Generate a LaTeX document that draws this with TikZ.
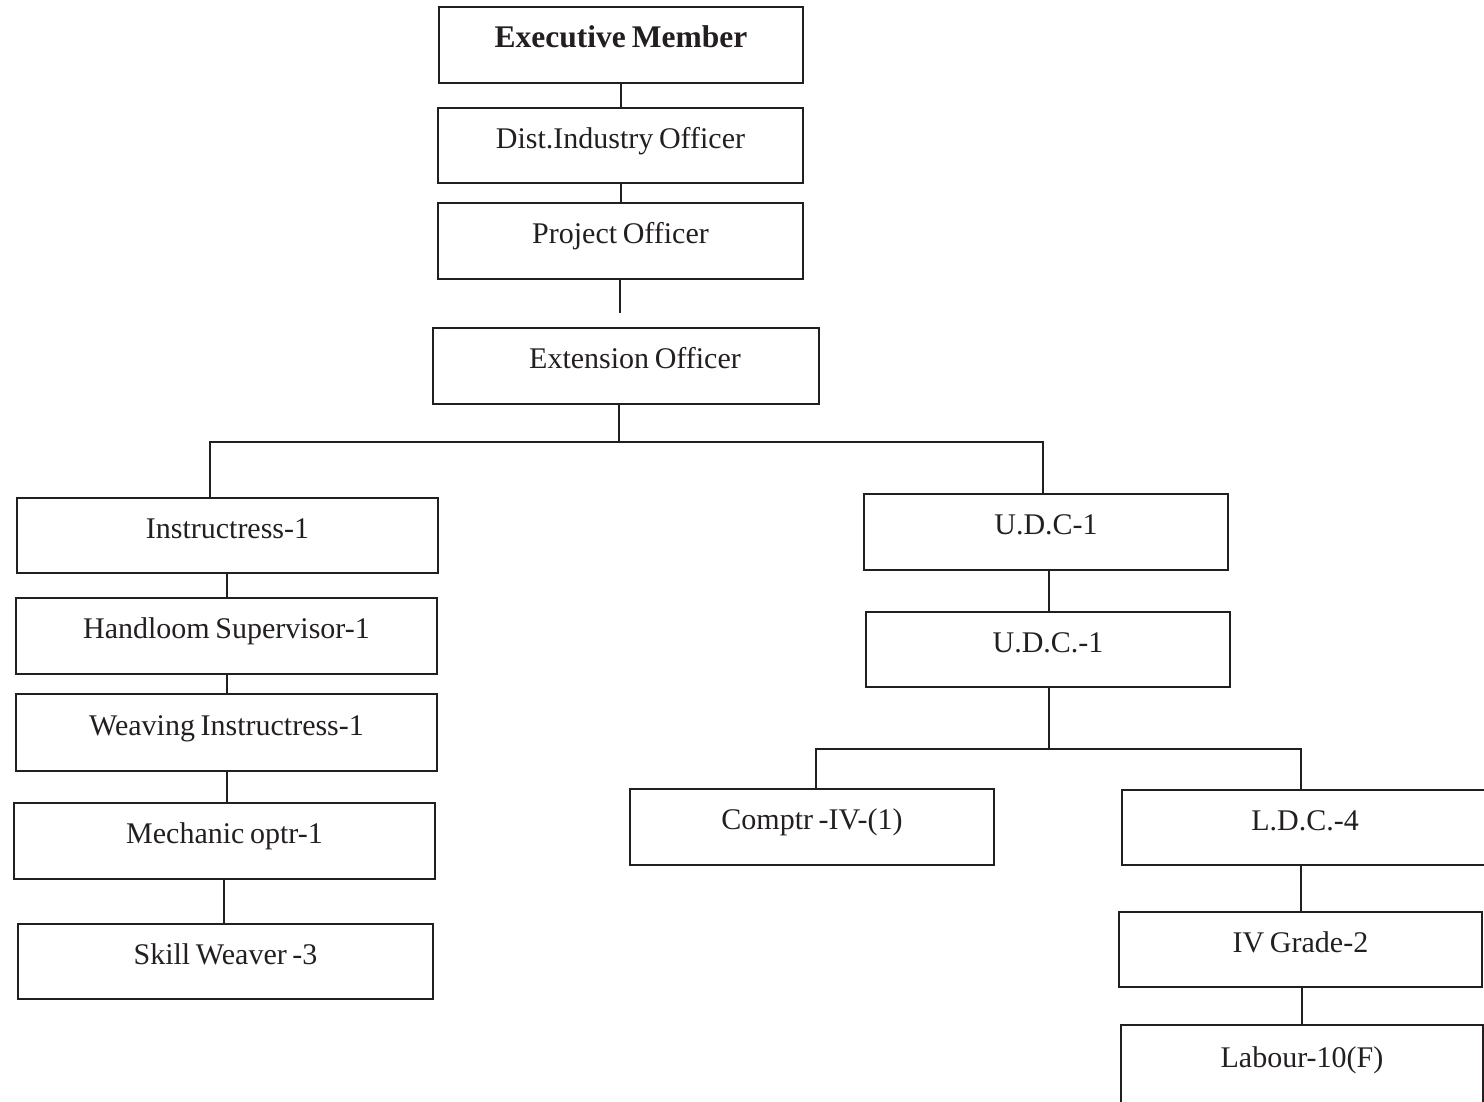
\documentclass[tikz,border=0pt]{standalone}
\usepackage{fontspec}
\setmainfont[WordSpace=0.75]{Liberation Serif}
\definecolor{ink}{RGB}{35,31,32}
\begin{document}
\begin{tikzpicture}[x=1pt,y=-1pt,
  every node/.style={font=\fontsize{30}{35}\selectfont, text=ink},
  post/.style={draw=ink, line width=2pt, inner sep=0pt,
    minimum height=76pt, text height=20pt, text depth=15pt},
  link/.style={draw=ink, line width=2pt, line join=miter}]
\useasboundingbox (0,0) rectangle (1484,1101);
\clip (0,0) rectangle (1484,1101);

% upper chain
\node[post, minimum width=364pt] (exec) at (621,45) {\fontsize{31.5}{36}\selectfont\bfseries Executive Member};
\node[post, minimum width=365pt, minimum height=75pt] (dist) at (620.5,145.5) {Dist.Industry Officer};
\node[post, minimum width=365pt] (proj) at (620.5,241) {Project Officer};
\node[post, minimum width=386pt] (ext) at (626,366) {\hspace*{18pt}Extension Officer};

% left branch
\node[post, minimum width=421pt, minimum height=75pt] (inst) at (227.5,535.5) {Instructress-1};
\node[post, minimum width=421pt] (hand) at (226.5,636) {Handloom Supervisor-1};
\node[post, minimum width=421pt, minimum height=77pt] (weave) at (226.5,732.5) {Weaving Instructress-1};
\node[post, minimum width=421pt] (mech) at (224.5,841) {Mechanic optr-1};
\node[post, minimum width=415pt, minimum height=75pt] (skill) at (225.5,961.5) {Skill Weaver -3};

% right branch
\node[post, minimum width=364pt] (udca) at (1046,532) {U.D.C-1};
\node[post, minimum width=364pt, minimum height=75pt] (udcb) at (1048,649.5) {U.D.C.-1};
\node[post, minimum width=364pt] (comp) at (812,827) {Comptr -IV-(1)};
\node[post, minimum width=366pt, minimum height=75pt] (ldc) at (1305,827.5) {L.D.C.-4};
\node[post, minimum width=363pt, minimum height=75pt] (grade) at (1300.5,949.5) {IV Grade-2};
\node[post, minimum width=362pt, minimum height=80pt] (labour) at (1302,1065) {Labour-10(F)};

% junction points
\coordinate (projend) at (620,313);
\coordinate (extdrop) at (619,442);
\coordinate (busL) at (210,442);
\coordinate (busR) at (1043,442);
\coordinate (udcdrop) at (1049,749);
\coordinate (subL) at (816,749);
\coordinate (subR) at (1301,749);

% connectors
\draw[link] (exec.south -| dist.north) -- (dist.north);
\draw[link] (dist.south) -- (proj.north);
\draw[link] (proj.south -| projend) -- (projend);
\draw[link] (extdrop |- ext.south) -- (extdrop);
\draw[link] (busL |- inst.north) -- (busL) -- (busR) -- (busR |- udca.north);
\draw[link] (227,573) coordinate (a1) -- (a1 |- hand.north);
\draw[link] (227,674) coordinate (a2) -- (a2 |- weave.north);
\draw[link] (227,771) coordinate (a3) -- (a3 |- mech.north);
\draw[link] (224,879) coordinate (a4) -- (a4 |- skill.north);
\draw[link] (udcdrop |- udca.south) -- (udcdrop |- udcb.north);
\draw[link] (udcdrop |- udcb.south) -- (udcdrop);
\draw[link] (subL |- comp.north) -- (subL) -- (subR) -- (subR |- ldc.north);
\draw[link] (subR |- ldc.south) -- (subR |- grade.north);
\draw[link] (1302,987) coordinate (a5) -- (a5 |- labour.north);
\end{tikzpicture}
\end{document}
